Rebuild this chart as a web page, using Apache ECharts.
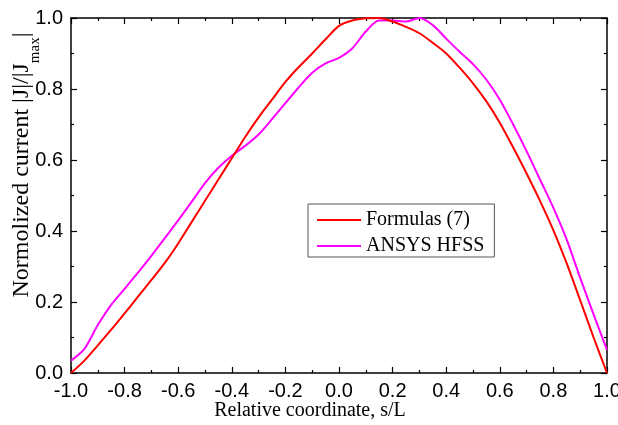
<!DOCTYPE html>
<html>
<head>
<meta charset="utf-8">
<script src="https://cdn.jsdelivr.net/npm/echarts@6/dist/echarts.min.js"></script>
<style>
html,body{margin:0;padding:0;background:#fff;}
#chart{width:618px;height:425px;}
</style>
</head>
<body>
<div id="chart"></div>
<script>
var xValues = [-1.0,-0.95,-0.9,-0.85,-0.8,-0.75,-0.7,-0.65,-0.6,-0.55,-0.5,-0.45,-0.4,-0.35,-0.3,-0.25,-0.2,-0.15,-0.1,-0.05,0.0,0.05,0.1,0.15,0.2,0.25,0.3,0.35,0.4,0.45,0.5,0.55,0.6,0.65,0.7,0.75,0.8,0.85,0.9,0.95,1.0];
var formulas = [0.0,0.035,0.078,0.122,0.168,0.215,0.262,0.31,0.365,0.425,0.485,0.545,0.605,0.665,0.72,0.77,0.82,0.862,0.9,0.94,0.978,0.993,0.999,1.0,0.99,0.975,0.957,0.93,0.9,0.86,0.816,0.765,0.705,0.635,0.562,0.485,0.402,0.308,0.205,0.1,0.0];
var hfss = [0.035,0.068,0.135,0.192,0.237,0.283,0.33,0.38,0.43,0.482,0.535,0.578,0.612,0.64,0.672,0.715,0.76,0.805,0.846,0.872,0.888,0.915,0.962,0.993,0.993,0.99,1.0,0.98,0.942,0.905,0.87,0.826,0.77,0.70,0.625,0.545,0.465,0.375,0.268,0.165,0.065];
var seriesNames = ['Formulas (7)', 'ANSYS HFSS'];
var xTitle = 'Relative coordinate, s/L';
var yTitleMain = 'Normolized current |J|/|J';
var yTitleSub = 'max';

function pairs(ys){ return xValues.map(function(x,i){ return [x, ys[i]]; }); }
function fmt(v){ return Math.abs(v) < 1e-9 ? '0.0' : v.toFixed(1); }

var sans = 'Liberation Sans, Arial, sans-serif';
var serif = 'Liberation Serif, Times New Roman, serif';

var axisCommon = {
  axisLine: {show: true, onZero: false, lineStyle: {color: '#000', width: 1.5}},
  axisTick: {show: true, inside: true, length: 6, lineStyle: {color: '#000', width: 1.2}},
  minorTick: {show: true, splitNumber: 2, length: 3, lineStyle: {color: '#000', width: 1.2}},
  splitLine: {show: false},
  minorSplitLine: {show: false}
};

var chart = echarts.init(document.getElementById('chart'), null, {renderer: 'canvas'});
chart.setOption({
  animation: false,
  backgroundColor: '#fff',
  grid: {left: 71, right: 11, top: 18, bottom: 52, containLabel: false, outerBoundsMode: 'none'},
  xAxis: [
    Object.assign({type: 'value', min: -1, max: 1, interval: 0.2, position: 'bottom',
      axisLabel: {show: true, color: '#000', fontFamily: sans, fontSize: 20, margin: 8, formatter: fmt, showMinLabel: true, showMaxLabel: true}}, axisCommon),
    Object.assign({type: 'value', min: -1, max: 1, interval: 0.2, position: 'top',
      axisLabel: {show: false}}, axisCommon)
  ],
  yAxis: [
    Object.assign({type: 'value', min: 0, max: 1, interval: 0.2, position: 'left',
      axisLabel: {show: true, color: '#000', fontFamily: sans, fontSize: 20, margin: 8, formatter: fmt}}, axisCommon),
    Object.assign({type: 'value', min: 0, max: 1, interval: 0.2, position: 'right',
      axisLabel: {show: false}}, axisCommon)
  ],
  legend: {
    show: true,
    orient: 'vertical',
    left: 308, top: 204,
    padding: [6, 10, 1, 8],
    itemWidth: 44, itemHeight: 14, itemGap: 6,
    borderColor: '#555', borderWidth: 1, borderRadius: 0,
    backgroundColor: '#fff',
    itemStyle: {opacity: 0},
    textStyle: {color: '#000', fontFamily: serif, fontSize: 20},
    data: seriesNames
  },
  series: [
    {name: seriesNames[0], type: 'line', data: pairs(formulas), smooth: 0.3, symbol: 'none',
      lineStyle: {color: '#ff0000', width: 2}, itemStyle: {color: '#ff0000'}, z: 3},
    {name: seriesNames[1], type: 'line', data: pairs(hfss), smooth: 0.3, symbol: 'none',
      lineStyle: {color: '#ff00ff', width: 2}, itemStyle: {color: '#ff00ff'}, z: 2}
  ],
  graphic: [
    {type: 'text', x: 310, y: 411, silent: true,
      style: {text: xTitle, fill: '#000', font: '20px ' + serif, align: 'center', verticalAlign: 'middle'}},
    {type: 'text', x: 23, y: 165, rotation: Math.PI / 2, silent: true,
      style: {
        text: '{a|' + yTitleMain + '}{b|' + yTitleSub + '}{a||}',
        align: 'center', verticalAlign: 'middle', fill: '#000',
        rich: {
          a: {fontSize: 24, fontFamily: serif, fill: '#000', lineHeight: 27, verticalAlign: 'top'},
          b: {fontSize: 15, fontFamily: serif, fill: '#000', lineHeight: 15, padding: [18, 0, 0, 0], verticalAlign: 'top'}
        }
      }}
  ]
});
</script>
</body>
</html>
